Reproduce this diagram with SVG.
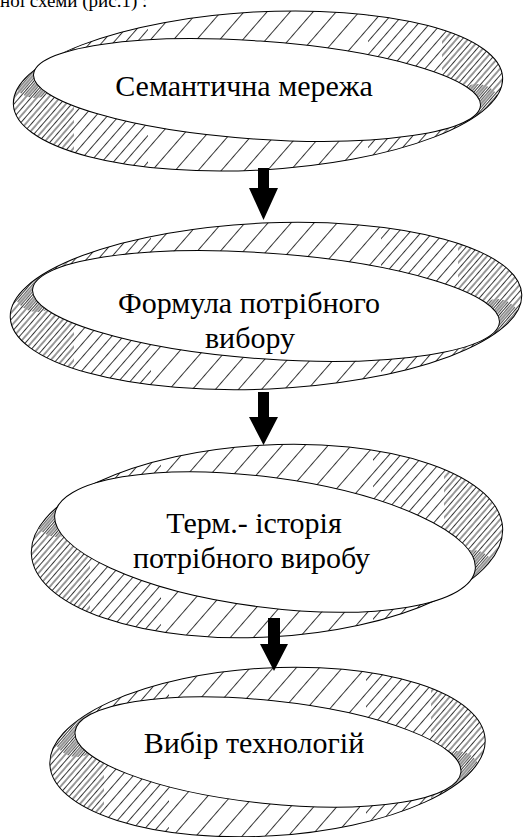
<svg xmlns="http://www.w3.org/2000/svg" width="525" height="837" viewBox="0 0 525 837">
<style>
.o{fill:#fff;stroke:#000;stroke-width:1}
.i{fill:#fff;stroke:#000;stroke-width:1}
.h{stroke:#000;stroke-width:0.8}
.arr{fill:#000}
</style>
<defs>
<pattern id="hA" patternUnits="userSpaceOnUse" width="17.4" height="20" patternTransform="rotate(41)"><line class="h" x1="0.5" y1="0" x2="0.5" y2="20"/></pattern>
<pattern id="hB" patternUnits="userSpaceOnUse" width="17.4" height="20" patternTransform="rotate(41)"><line class="h" x1="9.2" y1="0" x2="9.2" y2="20"/></pattern>
<pattern id="hC" patternUnits="userSpaceOnUse" width="17.4" height="20" patternTransform="rotate(41)"><line class="h" x1="4.85" y1="0" x2="4.85" y2="20"/><line class="h" x1="13.55" y1="0" x2="13.55" y2="20"/></pattern>
<pattern id="hD" patternUnits="userSpaceOnUse" width="17.4" height="20" patternTransform="rotate(41)"><line class="h" x1="2.7" y1="0" x2="2.7" y2="20"/><line class="h" x1="7.0" y1="0" x2="7.0" y2="20"/><line class="h" x1="11.4" y1="0" x2="11.4" y2="20"/><line class="h" x1="15.7" y1="0" x2="15.7" y2="20"/></pattern>
<clipPath id="c1"><ellipse cx="258" cy="91" rx="245" ry="79" transform="rotate(-3.2 258 91)"/></clipPath>
<clipPath id="c2"><ellipse cx="266" cy="306" rx="256" ry="83" transform="rotate(-2.6 266 306)"/></clipPath>
<clipPath id="c3"><ellipse cx="267" cy="541" rx="236" ry="96" transform="rotate(-3.2 267 541)"/></clipPath>
<clipPath id="c4"><ellipse cx="267.5" cy="752" rx="218" ry="84" transform="rotate(-3.4 267.5 752)"/></clipPath>
</defs>

<text x="0" y="7" style="font-family:'Liberation Serif','Times New Roman',serif;font-size:19px;fill:#000">ної схеми (рис.1) :</text>

<g id="node1">
<ellipse class="o" cx="258" cy="91" rx="245" ry="79" transform="rotate(-3.2 258 91)"/>
<g clip-path="url(#c1)">
<rect x="0" y="0" width="525" height="180" fill="url(#hA)"/>
<rect x="0" y="0" width="148" height="180" fill="url(#hB)"/>
<rect x="368" y="0" width="157" height="180" fill="url(#hB)"/>
<rect x="0" y="0" width="74" height="180" fill="url(#hC)"/>
<rect x="442" y="0" width="83" height="180" fill="url(#hC)"/>
<circle cx="35" cy="74" r="24" fill="url(#hD)"/>
<circle cx="477" cy="108" r="24" fill="url(#hD)"/>
</g>
<ellipse class="i" cx="257" cy="90" rx="224" ry="49" transform="rotate(4 257 90)"/>
<text x="244" y="96" style="font-family:'Liberation Serif','Times New Roman',serif;font-size:30px;text-anchor:middle;fill:#000">Семантична мережа</text>
</g>

<g id="node2">
<ellipse class="o" cx="266" cy="306" rx="256" ry="83" transform="rotate(-2.6 266 306)"/>
<g clip-path="url(#c2)">
<rect x="0" y="215" width="525" height="185" fill="url(#hA)"/>
<rect x="0" y="215" width="151" height="185" fill="url(#hB)"/>
<rect x="381" y="215" width="144" height="185" fill="url(#hB)"/>
<rect x="0" y="215" width="74" height="185" fill="url(#hC)"/>
<rect x="458" y="215" width="67" height="185" fill="url(#hC)"/>
<circle cx="37" cy="288" r="24" fill="url(#hD)"/>
<circle cx="497" cy="323" r="24" fill="url(#hD)"/>
</g>
<ellipse class="i" cx="266" cy="306" rx="234" ry="53" transform="rotate(4 266 306)"/>
<text x="249" y="313" style="font-family:'Liberation Serif','Times New Roman',serif;font-size:30px;text-anchor:middle;fill:#000">Формула потрібного</text>
<text x="250" y="348" style="font-family:'Liberation Serif','Times New Roman',serif;font-size:30px;text-anchor:middle;fill:#000">вибору</text>
</g>

<g id="node3">
<ellipse class="o" cx="267" cy="541" rx="236" ry="96" transform="rotate(-3.2 267 541)"/>
<g clip-path="url(#c3)">
<rect x="0" y="440" width="525" height="205" fill="url(#hA)"/>
<rect x="0" y="440" width="161" height="205" fill="url(#hB)"/>
<rect x="373" y="440" width="152" height="205" fill="url(#hB)"/>
<rect x="0" y="440" width="90" height="205" fill="url(#hC)"/>
<rect x="444" y="440" width="81" height="205" fill="url(#hC)"/>
<circle cx="57" cy="513" r="24" fill="url(#hD)"/>
<circle cx="472" cy="574" r="24" fill="url(#hD)"/>
</g>
<ellipse class="i" cx="265" cy="542" rx="212" ry="65" transform="rotate(7.5 265 542)"/>
<text x="254" y="533" style="font-family:'Liberation Serif','Times New Roman',serif;font-size:30px;text-anchor:middle;fill:#000">Терм.- історія</text>
<text x="251.5" y="568" style="font-family:'Liberation Serif','Times New Roman',serif;font-size:30px;text-anchor:middle;fill:#000">потрібного виробу</text>
</g>

<g id="node4">
<ellipse class="o" cx="267.5" cy="752" rx="218" ry="84" transform="rotate(-3.4 267.5 752)"/>
<g clip-path="url(#c4)">
<rect x="0" y="660" width="525" height="177" fill="url(#hA)"/>
<rect x="0" y="660" width="169" height="177" fill="url(#hB)"/>
<rect x="366" y="660" width="159" height="177" fill="url(#hB)"/>
<rect x="0" y="660" width="104" height="177" fill="url(#hC)"/>
<rect x="431" y="660" width="94" height="177" fill="url(#hC)"/>
<circle cx="77" cy="733" r="24" fill="url(#hD)"/>
<circle cx="457" cy="775" r="24" fill="url(#hD)"/>
</g>
<ellipse class="i" cx="268" cy="752" rx="194" ry="51.5" transform="rotate(6 268 752)"/>
<text x="254" y="753" style="font-family:'Liberation Serif','Times New Roman',serif;font-size:30px;text-anchor:middle;fill:#000">Вибір технологій</text>
</g>

<g id="connectors">
<path class="arr" d="M258,168 H269 V188 H278 L263.5,220 L249,188 H258 Z"/>
<path class="arr" d="M258,392 H269 V417 H278 L263.5,445 L249,417 H258 Z"/>
<path class="arr" d="M268,618 H280 V644 H288 L274,671 L260,644 H268 Z"/>
</g>
</svg>
